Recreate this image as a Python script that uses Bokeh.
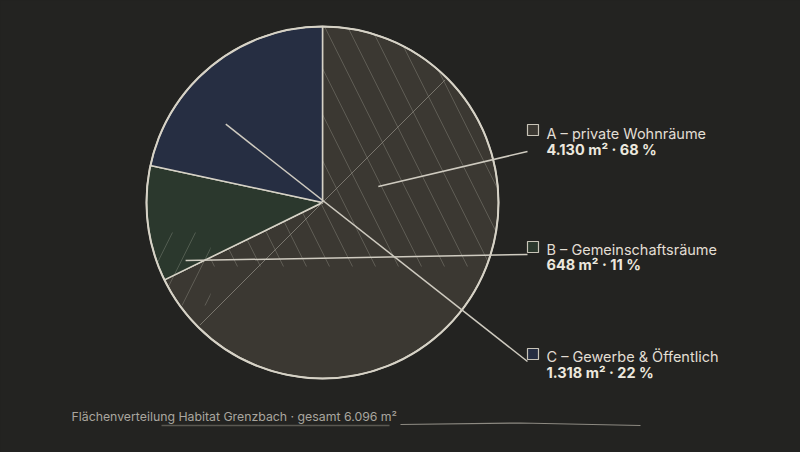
import numpy as np
from bokeh.plotting import figure
from bokeh.models import Range1d
from bokeh.core.properties import value
from bokeh.embed import file_html
from bokeh.resources import INLINE

# ---- data ----
codes = ["A", "B", "C"]
names = ["private Wohnräume", "Gemeinschaftsräume", "Gewerbe & Öffentlich"]
areas_m2 = [4130, 648, 1318]
colors = ["#3b3832", "#2b382d", "#262e42"]
title_text = "Flächenverteilung Habitat Grenzbach"

# leader anchors (fraction of radius, angle in degrees)
anchor_r = [0.33, 0.845, 0.707]
anchor_deg = [16, 203, 141]

W, H = 800, 452
BG = "#232321"
EDGE = "#d6d2c6"
TXT = "#e2ded4"

def dx(sx):
    return sx

def dy(sy):
    return H - sy

p = figure(width=W, height=H, output_backend="svg", toolbar_location=None,
           x_range=Range1d(0, W), y_range=Range1d(0, H),
           min_border=0, background_fill_color=BG, border_fill_color=BG,
           outline_line_color=None)
p.axis.visible = False
p.grid.visible = False

cx, cy, R = dx(322), dy(202), 176.0

total = sum(areas_m2)
fracs = np.array(areas_m2) / total
angles = fracs * 2 * np.pi
starts = np.pi / 2 - np.concatenate([[0], np.cumsum(angles)[:-1]])
ends = starts - angles

p.wedge(x=[cx] * 3, y=[cy] * 3, radius=R, start_angle=list(starts), end_angle=list(ends),
        direction="clock", fill_color=colors, line_color=EDGE, line_width=1.5)

def wedge_poly(a0, a1, n=240):
    t = np.linspace(a0, a1, n)
    xs = np.concatenate([[0.0], np.cos(t)])
    ys = np.concatenate([[0.0], np.sin(t)])
    return list(zip(xs, ys))

def clip(poly, a, b, c):
    # keep a*x + b*y >= c
    out = []
    n = len(poly)
    for i in range(n):
        P = poly[i]
        Q = poly[(i + 1) % n]
        fp = a * P[0] + b * P[1] - c
        fq = a * Q[0] + b * Q[1] - c
        if fp >= 0:
            out.append(P)
        if (fp >= 0) != (fq >= 0):
            t = fp / (fp - fq)
            out.append((P[0] + t * (Q[0] - P[0]), P[1] + t * (Q[1] - P[1])))
    return out

# hatch region 1 ("\") inside slice A, above a level
polyA = wedge_poly(starts[0], ends[0])
h1 = clip(polyA, 0, 1, -0.364)
p.patch(x=[cx + R * q[0] for q in h1], y=[cy + R * q[1] for q in h1],
        fill_alpha=0, line_alpha=0, hatch_pattern="\\", hatch_color="#d8d4c8",
        hatch_alpha=0.22, hatch_scale=46, hatch_weight=1)

# hatch region 2 ("/") near the left edge
disk = [(np.cos(t), np.sin(t)) for t in np.linspace(0, 2 * np.pi, 360, endpoint=False)]
h2 = clip(disk, -1, 0, 0.636)
h2 = clip(h2, 0, 1, -0.585)
h2 = clip(h2, 0, -1, 0.17)
p.patch(x=[cx + R * q[0] for q in h2], y=[cy + R * q[1] for q in h2],
        fill_alpha=0, line_alpha=0, hatch_pattern="/", hatch_color="#d8d4c8",
        hatch_alpha=0.22, hatch_scale=46, hatch_weight=1)

# construction diameter
d = 0.985
p.line(x=[cx + R * d * np.cos(np.radians(225)), cx + R * d * np.cos(np.radians(45))],
       y=[cy + R * d * np.sin(np.radians(225)), cy + R * d * np.sin(np.radians(45))],
       line_color="#8a867d", line_width=1, line_alpha=0.8)

# outer circle
p.circle(x=[cx], y=[cy], radius=R, fill_alpha=0, line_color=EDGE, line_width=2)

# legend
sq_y = [dy(129.5), dy(246.5), dy(353.5)]
end_y = [dy(151), dy(254), dy(361)]
l1_y = [dy(133), dy(249), dy(356)]
l2_y = [dy(148.5), dy(264), dy(371.5)]

ax = [cx + R * r * np.cos(np.radians(a)) for r, a in zip(anchor_r, anchor_deg)]
ay = [cy + R * r * np.sin(np.radians(a)) for r, a in zip(anchor_r, anchor_deg)]
p.segment(x0=ax, y0=ay, x1=[dx(527)] * 3, y1=end_y, line_color="#cfcbc0", line_width=1.5)

p.rect(x=[dx(532.5)] * 3, y=sq_y, width=11, height=11, fill_color=colors,
       line_color="#c8c4b8", line_width=1.2)

def de(n):
    return f"{n:,}".replace(",", ".")

line1 = [f"{c} – {n}" for c, n in zip(codes, names)]
line2 = [f"{de(a)} m² · {round(f * 100)} %" for a, f in zip(areas_m2, fracs)]

p.text(x=[dx(546)] * 3, y=l1_y, text=line1, text_font=value("Inter"),
       text_font_size="14.5px", text_color=TXT, text_baseline="alphabetic")
p.text(x=[dx(546)] * 3, y=l2_y, text=line2, text_font=value("Inter"),
       text_font_size="14.5px", text_font_style="bold", text_color="#ece8de",
       text_baseline="alphabetic")

# caption
cap = f"{title_text} · gesamt {de(total)} m²"
p.text(x=[dx(71)], y=[dy(416)], text=[cap], text_font=value("Inter"),
       text_font_size="12.3px", text_color="#a9a69f", text_baseline="alphabetic")
p.line(x=[dx(161), dx(389)], y=[dy(425), dy(425)], line_color="#5a5852", line_width=1.5)
p.line(x=[dx(400), dx(520), dx(640)], y=[dy(424), dy(422.5), dy(425)],
       line_color="#8d8a82", line_width=1.2)

html = file_html(p, INLINE)
html = html.replace("<head>", "<head><style>html,body{background:#232321;}</style>", 1)
open("out.html", "w").write(html)
